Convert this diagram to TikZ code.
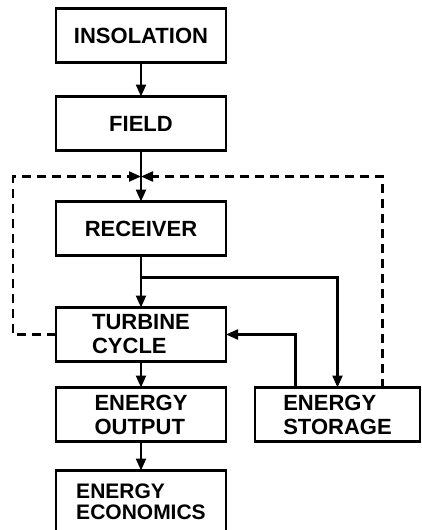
\documentclass[tikz,border=0pt]{standalone}
\usepackage{fontspec}
\setsansfont{Liberation Sans}
\usepackage{tikz}
\usetikzlibrary{positioning, arrows.meta}

\begin{document}
\begin{tikzpicture}[
            blockbox/.style={
                draw, line width=2.2pt, minimum width=170pt, minimum height=54pt,
                inner sep=2pt, outer sep=0pt, align=left,
                font=\sffamily\bfseries\fontsize{22}{24}\selectfont
            },
            flow/.style={-{Triangle[length=12pt,width=10pt]}, line width=2.2pt},
            loopline/.style={flow, dash pattern=on 9pt off 6pt}
        ]
            \useasboundingbox (0,0) rectangle (422pt,-530pt);

            % main column
            \node[blockbox] (ins) at (141pt,-35.5pt) {INSOLATION};
            \node[blockbox, below=34pt of ins] (field) {FIELD};
            \node[blockbox, below=51pt of field] (rec) {RECEIVER};
            \node[blockbox, below=52pt of rec] (turb) {TURBINE\\CYCLE};
            \node[blockbox, below=26pt of turb] (out) {ENERGY\\OUTPUT};
            \node[blockbox, minimum height=62pt, below=29pt of out,
                  font=\sffamily\bfseries\fontsize{21}{21}\selectfont] (econ) {ENERGY\\ECONOMICS};

            % storage beside the output
            \node[blockbox, minimum width=165pt, right=29pt of out] (stor) {ENERGY\\STORAGE};

            % helper points
            \coordinate[below=26pt of field.south] (j);
            \coordinate[below=22pt of rec.south] (rb);
            \coordinate[left=43pt of turb.west] (tl);
            \coordinate (sr) at ([xshift=45pt]stor.north);
            \coordinate (sl) at ([xshift=-42pt]stor.north);

            % solid flows
            \draw[flow] (ins) -- (field);
            \draw[flow] (field) -- (rec);
            \draw[flow] (rec) -- (turb);
            \draw[flow] (rb) -| (stor.north);
            \draw[flow] (sl) |- (turb.east);
            \draw[flow] (turb) -- (out);
            \draw[flow] (out) -- (econ);

            % dashed feedback loops
            \draw[loopline] (turb.west) -- (tl) |- (j);
            \draw[loopline] (sr) |- (j);
        \end{tikzpicture}
\end{document}
